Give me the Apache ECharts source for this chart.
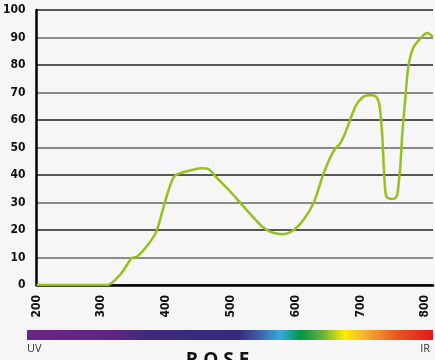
<!DOCTYPE html>
<html>
<head>
<meta charset="utf-8">
<script src="https://cdn.jsdelivr.net/npm/echarts@6/dist/echarts.min.js"></script>
<style>
html,body{margin:0;padding:0;background:#f6f6f6;}
#c{width:435px;height:360px;}
</style>
</head>
<body>
<div id="c"></div>
<script>
const wavelengths = [200, 250, 300, 309, 330, 347, 355, 370, 385, 398, 411, 420, 440, 454, 465, 477, 495, 515, 535, 551, 565, 580, 597, 613, 628, 643, 658, 669, 676, 692, 702, 712, 718, 724, 729, 733.5, 736, 738.5, 741, 748, 754, 757, 759, 761.5, 764.6, 769, 773.7, 781, 792, 803, 812];
const transmission = [0, 0, 0, 0, 4, 9.8, 10.3, 14, 19.5, 30, 39, 40.5, 41.8, 42.5, 42.2, 39.3, 35, 29.8, 24.5, 20.7, 19, 18.5, 20, 24, 30, 40.5, 48.5, 51.6, 55, 64.8, 68, 69, 69, 68.5, 66, 55, 43, 34, 31.8, 31.3, 31.6, 33, 37, 43, 55, 67, 79, 86, 89.5, 91.6, 90.2];
const yTicks = [0, 10, 20, 30, 40, 50, 60, 70, 80, 90, 100];
const xTicks = [200, 300, 400, 500, 600, 700, 800];
const titleText = 'R O S E';

const chart = echarts.init(document.getElementById('c'), null, {renderer: 'canvas'});
const seriesData = wavelengths.map((w, i) => [w, transmission[i]]);
const font = '"DejaVu Sans Condensed", "Liberation Sans Narrow", "Liberation Sans", sans-serif';
chart.setOption({
  backgroundColor: '#f6f6f6',
  animation: false,
  grid: {left: 33, right: 2, top: 10, bottom: 75, containLabel: false},
  xAxis: {
    type: 'value', min: 200, max: 812, interval: 100,
    axisLine: {show: true, onZero: false, lineStyle: {color: '#000', width: 2.5}},
    axisTick: {show: false},
    splitLine: {show: false},
    axisLabel: {
      rotate: 90, margin: 10, color: '#111', fontFamily: font, fontWeight: 'bold', fontSize: 12,
      formatter: v => (xTicks.indexOf(v) >= 0 ? String(v) : '')
    }
  },
  yAxis: {
    type: 'value', min: 0, max: 100, interval: 10,
    axisLine: {show: true, lineStyle: {color: '#000', width: 2.5}},
    axisTick: {show: false},
    splitLine: {show: true, lineStyle: {color: ['#222', '#666'], width: 1.5}},
    axisLabel: {
      margin: 11, color: '#111', fontFamily: font, fontWeight: 'bold', fontSize: 12,
      formatter: v => (yTicks.indexOf(v) >= 0 ? String(v) : '')
    }
  },
  series: [{
    type: 'line',
    data: seriesData,
    smooth: 0.3,
    showSymbol: false,
    lineStyle: {color: '#95c11f', width: 2.5},
    z: 5
  }],
  graphic: [
    {
      type: 'rect', left: 27, top: 330,
      shape: {width: 406, height: 10},
      style: {
        fill: new echarts.graphic.LinearGradient(0, 0, 1, 0, [
          {offset: 0, color: '#6b2584'},
          {offset: 0.22, color: '#5e2584'},
          {offset: 0.3, color: '#3d2a80'},
          {offset: 0.52, color: '#352a80'},
          {offset: 0.57, color: '#3f5aa5'},
          {offset: 0.623, color: '#36a9e1'},
          {offset: 0.675, color: '#009640'},
          {offset: 0.73, color: '#6bb33a'},
          {offset: 0.783, color: '#ffed00'},
          {offset: 0.83, color: '#f9b233'},
          {offset: 0.906, color: '#e85c1e'},
          {offset: 1, color: '#e3161c'}
        ])
      }
    },
    {type: 'text', left: 27, top: 343, style: {text: 'UV', fill: '#333', font: '11px "Open Sans", sans-serif'}},
    {type: 'text', right: 5, top: 343, style: {text: 'IR', fill: '#333', font: '11px "Open Sans", sans-serif'}},
    {type: 'text', left: 'center', top: 351, style: {text: titleText, fill: '#111', font: 'bold 19px "Open Sans", sans-serif'}}
  ]
});
</script>
</body>
</html>
